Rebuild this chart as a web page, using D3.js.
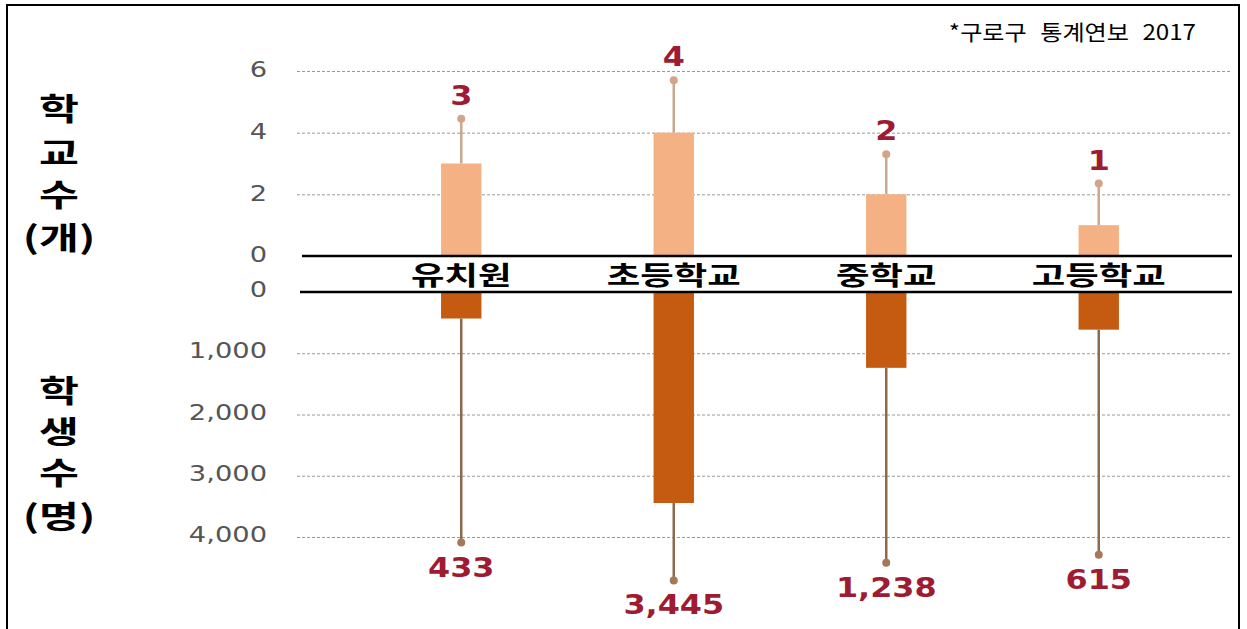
<!DOCTYPE html>
<html>
<head>
<meta charset="utf-8">
<style>
  body { margin: 0; background: #fff; }
  .grid line { stroke: #9a9a9a; stroke-dasharray: 3,2; stroke-width: 1; }
  .grid .domain { display: none; }
  .tick-axis text { font-family: "DejaVu Sans", sans-serif; font-size: 21px; fill: #555; }
  .tick-axis .domain, .tick-axis line { display: none; }
</style>
<script src="https://d3js.org/d3.v7.min.js"></script>
</head>
<body>
<script>
// data
var categories = ["유치원", "초등학교", "중학교", "고등학교"];
var schools = [3, 4, 2, 1];
var students = [433, 3445, 1238, 615];
// decorative whisker end points (axis units)
var schoolWhisker = [4.45, 5.7, 3.3, 2.35];
var studentWhisker = [4090, 4710, 4420, 4290];
var schoolTicks = [0, 2, 4, 6];
var studentTicks = [0, 1000, 2000, 3000, 4000];

var W = 1247, H = 629;
var svg = d3.select("body").append("svg").attr("width", W).attr("height", H);

// frame
svg.append("rect").attr("x", 7).attr("y", 5).attr("width", 1232).attr("height", H + 10)
  .attr("fill", "none").attr("stroke", "#000").attr("stroke-width", 2);

var x = d3.scaleBand().domain(categories).range([355, 1205]).padding(0.81).paddingOuter(0.405);
var yS = d3.scaleLinear().domain([0, 6]).range([256, 71]);
var yP = d3.scaleLinear().domain([0, 4000]).range([292, 537]);
var gx0 = 297, gx1 = 1232;
var stretch = 1.3; // the source image is stretched sideways

// gridlines
svg.append("g").attr("class", "grid").attr("transform", "translate(" + gx0 + ",0)")
  .call(d3.axisLeft(yS).tickValues(schoolTicks.filter(function(d){return d > 0;})).tickSize(-(gx1 - gx0)).tickFormat(""));
svg.append("g").attr("class", "grid").attr("transform", "translate(" + gx0 + ",0)")
  .call(d3.axisLeft(yP).tickValues(studentTicks.filter(function(d){return d > 0;})).tickSize(-(gx1 - gx0)).tickFormat(""));

// tick labels
svg.append("g").attr("class", "tick-axis").attr("transform", "translate(267,-1)")
  .call(d3.axisLeft(yS).tickValues(schoolTicks).tickSize(0).tickPadding(0).tickFormat(d3.format("d")))
  .selectAll("text").attr("transform", "scale(" + stretch + ",1)");
svg.append("g").attr("class", "tick-axis").attr("transform", "translate(267,-2)")
  .call(d3.axisLeft(yP).tickValues(studentTicks).tickSize(0).tickPadding(0).tickFormat(d3.format(",")))
  .selectAll("text").attr("transform", "scale(" + stretch + ",1)");

var bw = x.bandwidth();
function cx(d, i) { return x(categories[i]) + bw / 2; }

// upper whiskers
svg.selectAll(".wS").data(schools).enter().append("line")
  .attr("x1", cx).attr("x2", cx)
  .attr("y1", function(d){ return yS(d); })
  .attr("y2", function(d, i){ return yS(schoolWhisker[i]); })
  .attr("stroke", "#c8a88e").attr("stroke-width", 2.5);
svg.selectAll(".dS").data(schools).enter().append("circle")
  .attr("cx", cx).attr("cy", function(d, i){ return yS(schoolWhisker[i]); })
  .attr("r", 4).attr("fill", "#d4a488");

// upper bars
svg.selectAll(".bS").data(schools).enter().append("rect")
  .attr("x", function(d, i){ return x(categories[i]); })
  .attr("width", bw)
  .attr("y", function(d){ return yS(d); })
  .attr("height", function(d){ return yS(0) - yS(d); })
  .attr("fill", "#f4b183");

// lower whiskers
svg.selectAll(".wP").data(students).enter().append("line")
  .attr("x1", cx).attr("x2", cx)
  .attr("y1", function(d){ return yP(d); })
  .attr("y2", function(d, i){ return yP(studentWhisker[i]); })
  .attr("stroke", "#8c6b4c").attr("stroke-width", 2.5);
svg.selectAll(".dP").data(students).enter().append("circle")
  .attr("cx", cx).attr("cy", function(d, i){ return yP(studentWhisker[i]); })
  .attr("r", 4).attr("fill", "#a6785a");

// lower bars
svg.selectAll(".bP").data(students).enter().append("rect")
  .attr("x", function(d, i){ return x(categories[i]); })
  .attr("width", bw)
  .attr("y", yP(0))
  .attr("height", function(d){ return yP(d) - yP(0); })
  .attr("fill", "#c55a11");

// zero lines
svg.append("line").attr("x1", 302).attr("x2", gx1).attr("y1", yS(0)).attr("y2", yS(0))
  .attr("stroke", "#000").attr("stroke-width", 2.5);
svg.append("line").attr("x1", 300).attr("x2", gx1).attr("y1", yP(0)).attr("y2", yP(0))
  .attr("stroke", "#000").attr("stroke-width", 2.5);

// category labels
svg.selectAll(".cat").data(categories).enter().append("text")
  .attr("transform", function(d){ return "translate(" + (x(d) + bw / 2) + ",285) scale(1.4,1)"; })
  .attr("text-anchor", "middle")
  .style("font-family", "'Noto Sans CJK KR'").style("font-weight", "bold").style("font-size", "26px")
  .text(function(d){ return d; });

// value labels
var valFont = function(sel) {
  sel.attr("text-anchor", "middle")
    .style("font-family", "'DejaVu Sans', sans-serif").style("font-weight", "bold")
    .style("font-size", "27px").attr("fill", "#9e1b32");
};
svg.selectAll(".vS").data(schools).enter().append("text")
  .attr("transform", function(d, i){ return "translate(" + cx(d, i) + "," + (yS(schoolWhisker[i]) - 14) + ") scale(1.18,1)"; })
  .call(valFont).text(function(d){ return d; });
svg.selectAll(".vP").data(students).enter().append("text")
  .attr("transform", function(d, i){ return "translate(" + cx(d, i) + "," + (yP(studentWhisker[i]) + 34) + ") scale(1.18,1)"; })
  .call(valFont).text(function(d){ return d3.format(",")(d); });

// side titles
var leftTitle = function(lines, ys) {
  svg.selectAll(null).data(lines).enter().append("text")
    .attr("transform", function(d, i){ return "translate(59," + ys[i] + ") scale(1.4,1)"; })
    .attr("text-anchor", "middle")
    .style("font-family", "'Noto Sans CJK KR'").style("font-weight", "bold").style("font-size", "31px")
    .text(function(d){ return d; });
};
leftTitle(["학", "교", "수", "(개)"], [120, 164, 206, 249]);
leftTitle(["학", "생", "수", "(명)"], [402, 443, 484, 528]);

// source note
svg.append("text").attr("transform", "translate(1196,40) scale(1.15,1)").attr("text-anchor", "end")
  .style("font-family", "'Noto Sans CJK KR'").style("font-size", "21px").style("word-spacing", "7px")
  .text("*구로구 통계연보 2017");
</script>
</body>
</html>
